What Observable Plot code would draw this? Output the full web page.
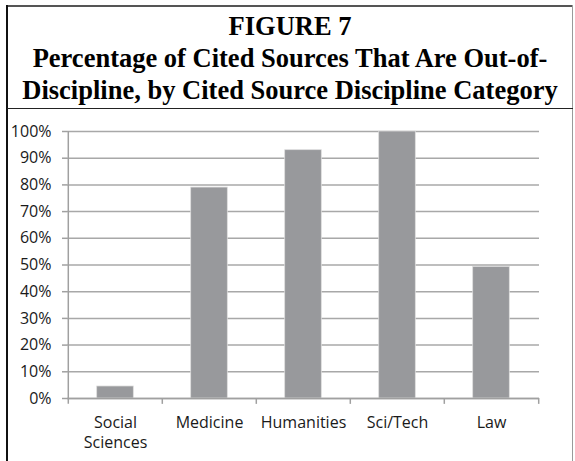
<!DOCTYPE html>
<html>
<head>
<meta charset="utf-8">
<script src="https://cdn.jsdelivr.net/npm/d3@7"></script>
<script src="https://cdn.jsdelivr.net/npm/@observablehq/plot@0.6"></script>
<style>
  html, body { margin: 0; padding: 0; background: #fff; }
  #wrap { position: relative; width: 575px; height: 461px; overflow: hidden; background: #fff; }
  #title { position: absolute; left: 7px; width: 566px; top: 10px; text-align: center;
    font-family: "Liberation Serif", "Times New Roman", serif; font-weight: bold; font-size: 26.5px;
    line-height: 32px; color: #000; }
  #chart { position: absolute; left: 0; top: 108px; }
  .b { position: absolute; }
</style>
</head>
<body>
<div id="wrap">
  <div id="title">FIGURE 7<br>Percentage of Cited Sources That Are Out-of-<br>Discipline, by Cited Source Discipline Category</div>
  <div id="chart"></div>
  <div class="b" style="left:7px;top:5px;width:566px;height:2px;background:#555;"></div>
  <div class="b" style="left:6px;top:5px;width:2px;height:460px;background:#111;"></div>
  <div class="b" style="left:572px;top:5px;width:1px;height:460px;background:#9a9a9a;"></div>
  <div class="b" style="left:7px;top:107.5px;width:566px;height:1.5px;background:#222;"></div>
</div>
<script>
const categories = ["Social Sciences", "Medicine", "Humanities", "Sci/Tech", "Law"];
const xTickLabels = ["Social\nSciences", "Medicine", "Humanities", "Sci/Tech", "Law"];
const values = [0.045, 0.79, 0.93, 1.0, 0.493];
const yTicks = [0, 0.1, 0.2, 0.3, 0.4, 0.5, 0.6, 0.7, 0.8, 0.9, 1.0];
const yTickLabels = ["0%", "10%", "20%", "30%", "40%", "50%", "60%", "70%", "80%", "90%", "100%"];

const data = categories.map((c, i) => ({cat: c, val: values[i]}));

const W = 575, H = 353, ML = 67, MR = 36, MT = 23, MB = 63;
const bw = (W - ML - MR) / categories.length;
const barW = 37;
const inset = (bw - barW) / 2;
const axisColor = "#a0a0a0";

const chart = Plot.plot({
  width: W, height: H,
  marginLeft: ML, marginRight: MR, marginTop: MT, marginBottom: MB,
  style: {fontFamily: "'Open Sans', sans-serif", fontSize: "16px", color: "#1a1a1a", background: "transparent", overflow: "visible"},
  x: {domain: categories, padding: 0, axis: null},
  y: {domain: [0, 1], axis: null},
  marks: [
    Plot.gridY(yTicks, {stroke: "#a8a8a8", strokeOpacity: 1, strokeWidth: 1.5}),
    Plot.barY(data, {x: "cat", y: "val", fill: "#98999c", stroke: "#dedede", strokeWidth: 0.75, insetLeft: inset, insetRight: inset}),
    Plot.ruleY([0], {stroke: axisColor, strokeWidth: 1.5}),
    Plot.ruleX(categories, {x: d => d, dx: -bw / 2, y1: -0.022, y2: (d, i) => i === 0 ? 1 : 0, stroke: axisColor, strokeWidth: 1.5}),
    Plot.ruleX(categories.slice(-1), {x: d => d, dx: bw / 2, y1: -0.022, y2: 0, stroke: axisColor, strokeWidth: 1.5}),
    Plot.axisY({ticks: yTicks, tickSize: 5, tickPadding: 11, stroke: axisColor, strokeWidth: 1.5, fill: "#1a1a1a",
      tickFormat: d => yTickLabels[yTicks.indexOf(d)], label: null}),
    Plot.axisX({tickSize: 0, tickPadding: 15, lineHeight: 1.25, fill: "#1a1a1a",
      tickFormat: d => xTickLabels[categories.indexOf(d)], label: null})
  ]
});
document.getElementById("chart").appendChild(chart);
</script>
</body>
</html>
